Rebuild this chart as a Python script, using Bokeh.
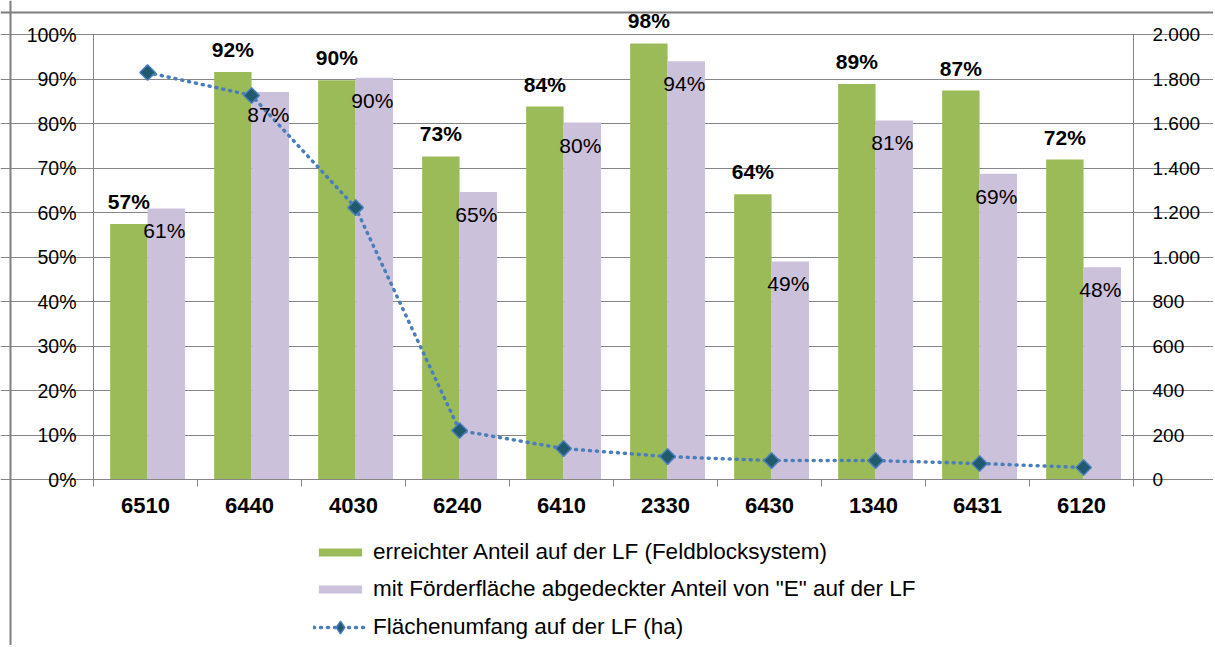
import numpy as np
from bokeh.plotting import figure
from bokeh.core.properties import value
from bokeh.models import (Range1d, LinearAxis, FixedTicker, ColumnDataSource, LabelSet,
                          Legend, LegendItem, Span, PrintfTickFormatter)
from bokeh.embed import file_html
from bokeh.resources import INLINE

categories = ["6510", "6440", "4030", "6240", "6410", "2330", "6430", "1340", "6431", "6120"]
anteil_lf = [57.4, 91.6, 89.7, 72.6, 83.8, 98.0, 64.1, 88.9, 87.4, 71.9]
anteil_foerder = [60.9, 87.1, 90.3, 64.6, 80.2, 94.0, 49.0, 80.7, 68.7, 47.7]
flaeche_ha = [1829, 1726, 1222, 220, 139, 103, 85, 85, 72, 54]
left_ticks = [0, 10, 20, 30, 40, 50, 60, 70, 80, 90, 100]
right_ticks = [0, 200, 400, 600, 800, 1000, 1200, 1400, 1600, 1800, 2000]
right_tick_labels = ["0", "200", "400", "600", "800", "1.000", "1.200", "1.400", "1.600", "1.800", "2.000"]
legend_labels = ["erreichter Anteil auf der LF (Feldblocksystem)",
                 "mit Förderfläche abgedeckter Anteil von \"E\" auf der LF",
                 "Flächenumfang auf der LF (ha)"]

FONT = "Liberation Sans"
GRID = "#868686"
GREEN = "#9BBB59"
LILAC = "#CCC1DA"
BLUE = "#4A7EBB"
TEAL = "#215A6E"
FRAME = "#7F7F7F"

W, H = 1213, 645
# pixel layout of the plotting area (category width and % scale)
PX_LEFT, PX_ZERO, CAT_W, PX_PER_PCT = 93, 479, 104.0, 4.45
n = len(categories)
ratio = 2000 / 100  # right axis units per percent

x_rng = Range1d(-PX_LEFT / CAT_W, (W - PX_LEFT) / CAT_W)
y_lo, y_hi = (PX_ZERO - H) / PX_PER_PCT, PX_ZERO / PX_PER_PCT

idx = np.arange(n)
src = ColumnDataSource(dict(
    xg=idx + 0.34, xp=idx + 0.70, xl=idx + 0.52,
    g=anteil_lf, pu=anteil_foerder, ha=flaeche_ha,
    gl=[f"{round(v)}%" for v in anteil_lf],
    pl=[f"{round(v)}%" for v in anteil_foerder],
))

p = figure(width=W, height=H, x_range=x_rng, y_range=Range1d(y_lo, y_hi),
           output_backend="svg", toolbar_location=None,
           min_border_left=0, min_border_right=0, min_border_top=0, min_border_bottom=0)
p.outline_line_color = None
p.background_fill_color = "white"
p.border_fill_color = "white"
p.extra_y_ranges = {"ha": Range1d(y_lo * ratio, y_hi * ratio)}

# left axis
ya = p.yaxis[0]
ya.fixed_location = 0
ya.bounds = (0, 100)
ya.ticker = FixedTicker(ticks=left_ticks)
ya.formatter = PrintfTickFormatter(format="%d%%")
ya.axis_line_color = GRID
ya.major_tick_line_color = GRID
ya.major_tick_out = 5
ya.major_tick_in = 0
ya.minor_tick_out = 0
ya.minor_tick_in = 0
ya.major_label_standoff = 12
ya.major_label_text_font = FONT
ya.major_label_text_font_size = "19.5px"
ya.major_label_text_color = "#000000"

# right axis
ra = LinearAxis(y_range_name="ha", ticker=FixedTicker(ticks=right_ticks),
                major_label_overrides=dict(zip(right_ticks, right_tick_labels)))
ra.fixed_location = n
ra.bounds = (0, 2000)
ra.axis_line_color = GRID
ra.major_tick_line_color = GRID
ra.major_tick_out = 7
ra.major_tick_in = 0
ra.minor_tick_out = 0
ra.minor_tick_in = 0
ra.major_label_standoff = 12
ra.major_label_text_font = FONT
ra.major_label_text_font_size = "19px"
ra.major_label_text_color = "#000000"
p.add_layout(ra, "right")

# bottom axis
xa = p.xaxis[0]
xa.fixed_location = 0
xa.bounds = (0, n)
centers = [float(i) + 0.5 for i in idx]
xa.ticker = FixedTicker(ticks=centers, minor_ticks=[float(i) for i in range(n + 1)])
xa.major_label_overrides = {c: cat for c, cat in zip(centers, categories)}
xa.axis_line_color = GRID
xa.major_tick_out = 0
xa.major_tick_in = 0
xa.minor_tick_line_color = GRID
xa.minor_tick_out = 7
xa.minor_tick_in = 0
xa.major_label_standoff = 11
xa.major_label_text_font = FONT
xa.major_label_text_font_size = "22px"
xa.major_label_text_font_style = "bold"
xa.major_label_text_color = "#000000"

p.xgrid.visible = False
p.ygrid.ticker = FixedTicker(ticks=left_ticks)
p.ygrid.bounds = (0, n)
p.ygrid.grid_line_color = GRID

rg = p.vbar(x="xg", top="g", width=0.36, source=src, fill_color=GREEN, line_color=None)
rp = p.vbar(x="xp", top="pu", width=0.36, source=src, fill_color=LILAC, line_color=None)
rl = p.line(x="xl", y="ha", source=src, y_range_name="ha", line_color=BLUE, line_width=3.5,
            line_dash="1 6", line_cap="round")
# diamond glyph (used for the legend symbol; fully covered by the square-diamond markers)
rd = p.scatter(x="xl", y="ha", source=src, y_range_name="ha", marker="diamond",
               size=14, fill_color=TEAL, line_color=BLUE, line_width=1.5)
rs = p.scatter(x="xl", y="ha", source=src, y_range_name="ha", marker="square", angle=np.pi / 4,
               size=11, fill_color=TEAL, line_color=BLUE, line_width=1.5)

p.add_layout(LabelSet(x="xg", y="g", text="gl", source=src, y_offset=15, text_align="center",
                      text_baseline="alphabetic", text_font=value(FONT), text_font_size="21px",
                      text_font_style="bold", text_color="#000000"))
p.add_layout(LabelSet(x="xp", y="pu", text="pl", source=src, y_offset=-30, x_offset=-2,
                      text_align="center", text_baseline="alphabetic", text_font=value(FONT),
                      text_font_size="21px", text_color="#000000"))

legend_style = dict(orientation="vertical", glyph_width=54, padding=0, margin=0,
                    label_standoff=6, label_text_font=FONT, label_text_font_size="22.5px",
                    label_text_color="#000000", border_line_color=None,
                    background_fill_alpha=0, label_height=26)
legend_bars = Legend(items=[LegendItem(label=legend_labels[0], renderers=[rg]),
                            LegendItem(label=legend_labels[1], renderers=[rp])],
                     location=(313, 43), glyph_height=10, spacing=11, **legend_style)
legend_line = Legend(items=[LegendItem(label=legend_labels[2], renderers=[rl, rd])],
                     location=(313, 2), glyph_height=32, spacing=0, **legend_style)
p.add_layout(legend_bars, "center")
p.add_layout(legend_line, "center")

# outer chart frame (left and top edge visible)
frame_left = (10 - PX_LEFT) / CAT_W
frame_top = (PX_ZERO - 12) / PX_PER_PCT
p.add_layout(Span(location=frame_top, dimension="width", line_color=FRAME, line_width=2))
p.add_layout(Span(location=frame_left, dimension="height", line_color=FRAME, line_width=2))

open("out.html", "w").write(file_html(p, INLINE))
